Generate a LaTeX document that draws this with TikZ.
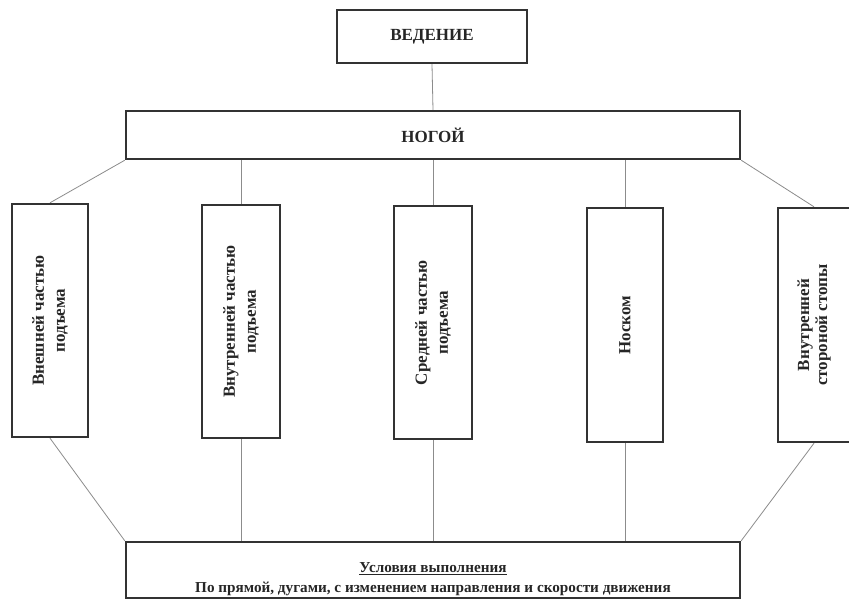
\documentclass[tikz,border=0pt]{standalone}
\usepackage{fontspec}
\setmainfont{Liberation Serif}
\begin{document}
\begin{tikzpicture}[x=1pt,y=-1pt,
  boxst/.style={draw=black!80,line width=2.4pt,fill=white,inner sep=0pt,align=center,
    font=\bfseries\fontsize{17}{21}\selectfont,text=black!85},
  vbox/.style={boxst,rotate=90},
  conn/.style={draw=black!45,line width=0.8pt}]
\useasboundingbox[fill=white] (0,0) rectangle (849,600);
% nodes
\node[boxst,minimum width=190pt,minimum height=53pt] (ved) at (432,36.5) {ВЕДЕНИЕ};
\node[boxst,minimum width=614pt,minimum height=48pt] (nog) at (433,135) {НОГОЙ};
\node[vbox,minimum width=233pt,minimum height=76pt] (b1) at (50,320.5) {Внешней частью\\подъема};
\node[vbox,minimum width=233pt,minimum height=78pt] (b2) at (241,321.5) {Внутренней частью\\подъема};
\node[vbox,minimum width=233pt,minimum height=78pt] (b3) at (433,322.5) {Средней частью\\подъема};
\node[vbox,minimum width=234pt,minimum height=76pt] (b4) at (625,325) {Носком};
\node[vbox,minimum width=234pt,minimum height=72pt,font=\bfseries\fontsize{17}{18}\selectfont] (b5) at (814,325) {Внутренней\\стороной стопы};
\node[boxst,minimum width=614pt,minimum height=56pt] (cond) at (433,570) {};
\node[inner sep=0pt,align=center,font=\bfseries\fontsize{15.2}{20}\selectfont,text=black!85] (condtext) at ([yshift=-9pt]cond.center) {\underline{Условия выполнения}\\По прямой, дугами, с изменением направления и скорости движения};
% connectors
\draw[conn] (ved.south) -- (nog.north);
\draw[conn] (nog.south west) -- (b1.east);
\draw[conn] (b2.east) -- (b2.east |- nog.south);
\draw[conn] (b3.east) -- (b3.east |- nog.south);
\draw[conn] (b4.east) -- (b4.east |- nog.south);
\draw[conn] (nog.south east) -- (b5.east);
\draw[conn] (b1.west) -- (cond.north west);
\draw[conn] (b2.west) -- (b2.west |- cond.north);
\draw[conn] (b3.west) -- (b3.west |- cond.north);
\draw[conn] (b4.west) -- (b4.west |- cond.north);
\draw[conn] (b5.west) -- (cond.north east);
\end{tikzpicture}
\end{document}
